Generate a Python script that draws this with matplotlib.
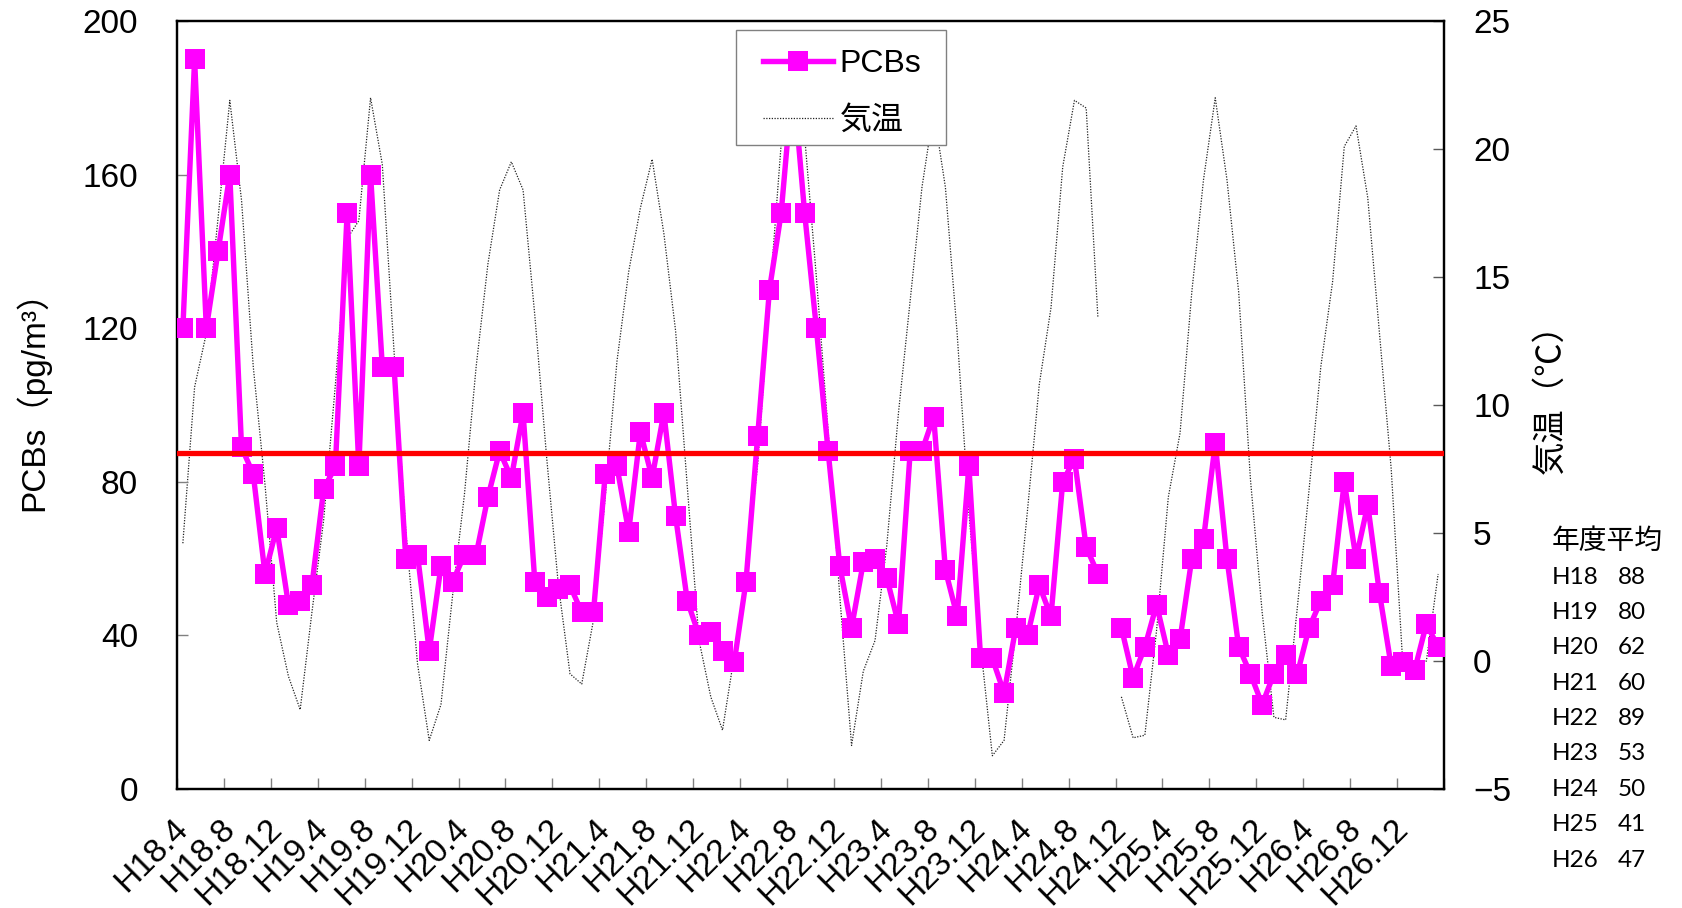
import numpy as np
import matplotlib
matplotlib.use("Agg")
import matplotlib.pyplot as plt
from matplotlib.lines import Line2D
from matplotlib.patches import Rectangle

plt.rcParams['font.family'] = ['Liberation Sans', 'Noto Sans CJK JP', 'DejaVu Sans']

nan = np.nan

# monthly PCBs (pg/m3), H18.4 .. H27.3 (H24.11 missing)
pcb = [120, 190, 120, 140, 160, 89, 82, 56, 68, 48, 49, 53,
       78, 84, 150, 84, 160, 110, 110, 60, 61, 36, 58, 54,
       61, 61, 76, 88, 81, 98, 54, 50, 52, 53, 46, 46,
       82, 84, 67, 93, 81, 98, 71, 49, 40, 41, 36, 33,
       54, 92, 130, 150, 185, 150, 120, 88, 58, 42, 59, 60,
       55, 43, 88, 88, 97, 57, 45, 84, 34, 34, 25, 42,
       40, 53, 45, 80, 86, 63, 56, nan, 42, 29, 37, 48,
       35, 39, 60, 65, 90, 60, 37, 30, 22, 30, 35, 30,
       42, 49, 53, 80, 60, 74, 51, 32, 33, 31, 43, 37]

# monthly air temperature (deg C)
temp = [4.6, 10.7, 12.8, 17.3, 21.9, 18.0, 11.5, 6.9, 1.5, -0.6, -1.9, 1.9,
        5.5, 10.8, 16.5, 17.2, 22.0, 19.4, 12.1, 5.1, -0.1, -3.1, -1.7, 2.6,
        6.5, 11.5, 15.5, 18.4, 19.5, 18.4, 13.5, 8.0, 3.0, -0.5, -0.9, 1.6,
        6.4, 11.7, 15.2, 17.7, 19.6, 16.7, 12.9, 6.8, 0.8, -1.4, -2.7, 0.2,
        3.4, 7.7, 14.1, 20.2, 23.5, 20.5, 15.0, 9.0, 2.5, -3.3, -0.4, 0.8,
        4.5, 9.7, 14.1, 18.5, 21.5, 18.5, 12.8, 5.8, 0.6, -3.7, -3.1, 1.2,
        5.9, 10.8, 13.8, 19.3, 21.9, 21.6, 13.4, nan, -1.4, -3.0, -2.9, 1.2,
        6.4, 8.9, 14.4, 18.8, 22.0, 18.8, 14.4, 7.1, 1.9, -2.2, -2.3, 2.1,
        6.7, 11.5, 14.8, 20.1, 20.9, 18.1, 12.8, 7.5, -0.2, -0.2, 0.0, 3.4]

tick_labels = ["H18.4", "H18.8", "H18.12", "H19.4", "H19.8", "H19.12",
               "H20.4", "H20.8", "H20.12", "H21.4", "H21.8", "H21.12",
               "H22.4", "H22.8", "H22.12", "H23.4", "H23.8", "H23.12",
               "H24.4", "H24.8", "H24.12", "H25.4", "H25.8", "H25.12",
               "H26.4", "H26.8", "H26.12"]

ref_level = 87.6

avg_years = ["H18", "H19", "H20", "H21", "H22", "H23", "H24", "H25", "H26"]
avg_vals = [88, 80, 62, 60, 89, 53, 50, 41, 47]

W, H = 1682, 908
MAG = '#FF00FF'
TCOL = '#222222'
TLS = (0, (1, 1.2))

fig = plt.figure(figsize=(W / 100, H / 100), dpi=100)
ax1 = fig.add_axes([177 / W, 1 - 789 / H, (1444 - 177) / W, (789 - 21) / H])
ax2 = ax1.twinx()

x = np.arange(len(pcb)) + 0.5
ax2.plot(x, temp, color=TCOL, lw=0.9, ls=TLS)
ax1.set_zorder(ax2.get_zorder() + 1)
ax1.patch.set_visible(False)

ax1.plot(x, pcb, color=MAG, lw=3.9, marker='s', ms=14.4, mew=0, zorder=3)
ax1.axhline(ref_level, color='#FF0000', lw=3.8, zorder=4)

ax1.set_xlim(0, len(pcb))
ax1.set_ylim(0, 200)
ax2.set_ylim(-5, 25)
ax1.set_yticks([0, 40, 80, 120, 160, 200])
ax2.set_yticks([-5, 0, 5, 10, 15, 20, 25])

# tick marks at category boundaries, labels centred on categories
ax1.set_xticks(np.arange(0, len(pcb) + 1, 4))
ax1.set_xticklabels([])
ax1.set_xticks(np.arange(0, len(pcb), 4) + 0.5, minor=True)
ax1.set_xticklabels(tick_labels, minor=True, rotation=45, ha='right', va='center',
                    rotation_mode='anchor', fontsize=24)
ax1.tick_params(axis='x', which='major', direction='in', length=8, width=1, color='#808080')
ax1.tick_params(axis='x', which='minor', length=0, pad=25)
ax1.tick_params(axis='y', direction='in', length=8, width=1, color='#808080',
                labelsize=24, pad=28)
ax2.tick_params(axis='y', direction='in', length=8, width=1, color='#595959',
                labelsize=24, pad=21)

for ax in (ax1, ax2):
    for s in ax.spines.values():
        s.set_linewidth(1.6)
        s.set_color('black')

fig.text(32 / W, 1 - 392 / H, "PCBs（pg/m³）", rotation=90, ha='center', va='center', fontsize=24)
fig.text(1550 / W, 1 - 391 / H, "気温（℃）", rotation=90, ha='center', va='center', fontsize=24,
         family=['Noto Sans CJK JP'])

# legend box drawn by hand so the padding matches
fig.patches.append(Rectangle((736 / W, 1 - 145 / H), 210 / W, 115 / H, transform=fig.transFigure,
                             facecolor='white', edgecolor='#808080', lw=1.0, zorder=4))
handles = [Line2D([], [], color=MAG, lw=3.9, marker='s', ms=14.4, mew=0),
           Line2D([], [], color=TCOL, lw=0.9, ls=TLS)]
fig.legend(handles, ['PCBs', '気温'], loc='upper left', bbox_to_anchor=(763 / W, 1 - 49 / H),
           fontsize=23, frameon=False, borderaxespad=0, borderpad=0,
           handlelength=2.2, handletextpad=0.2, labelspacing=0.85)

# yearly averages block
fig.text(1552 / W, 1 - 541 / H, "年度平均", ha='left', va='center', fontsize=20,
         family=['Noto Sans CJK JP'])
for k, (yr, v) in enumerate(zip(avg_years, avg_vals)):
    yy = 1 - (577 + 35.4 * k) / H
    fig.text(1552 / W, yy, yr, ha='left', va='center', fontsize=17.5, family=['Lato'])
    fig.text(1618 / W, yy, str(v), ha='left', va='center', fontsize=17.5, family=['Lato'])

fig.savefig('out.png', dpi=100)
